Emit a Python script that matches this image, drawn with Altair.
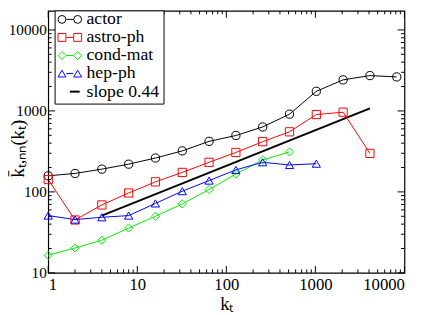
import altair as alt
import pandas as pd

# ---- data ----
kt = [1, 2, 4, 8, 16, 32, 64, 128, 256, 512, 1024, 2048, 4096, 8192]
actor = [158, 169, 191, 220, 262, 321, 421, 497, 634, 912, 1746, 2420, 2730, 2630]
astro_ph = [142, 45, 69, 97, 133, 174, 232, 307, 417, 552, 902, 964, 299]
cond_mat = [16.5, 20.3, 25.3, 35.8, 50, 71, 107, 166, 248, 312]
hep_ph = [51, 45.5, 48.6, 51, 72, 102, 138, 187, 232, 215, 223]
slope_x = [4, 4096]
slope_y = [51, 1077]

series = ["actor", "astro-ph", "cond-mat", "hep-ph"]
legend_labels = series + ["slope 0.44"]
colors = ["#000000", "#ff0000", "#00f000", "#0000ff", "#000000"]
shapes = ["circle", "square", "diamond", "triangle-up"]

x_major = [1, 10, 100, 1000, 10000]
x_minor = [m * d for d in [1, 10, 100, 1000] for m in range(2, 10)]
y_major = [10, 100, 1000, 10000]
y_minor = [m * d for d in [10, 100, 1000] for m in range(2, 10)]

# ---- tables ----
rows = []
for name, vals in zip(series, [actor, astro_ph, cond_mat, hep_ph]):
    for k, v in zip(kt, vals):
        rows.append({"k": k, "v": v, "s": name})
df = pd.DataFrame(rows)
slope_df = pd.DataFrame({"k": slope_x, "v": slope_y})
legend_df = pd.DataFrame({"s": legend_labels})

W, H = 363, 267
FONT = "Liberation Serif"

xs = alt.Scale(type="log", domain=[1, 10000], nice=False)
ys = alt.Scale(type="log", domain=[10, 17200], nice=False)

x_axis = alt.Axis(values=x_major, format="d", ticks=False, domain=False, grid=False,
                  labelPadding=4, labelFontSize=17, title="kₜ", titlePadding=2)
y_axis = alt.Axis(values=y_major, format="d", ticks=False, domain=False, grid=False,
                  labelPadding=2, labelFontSize=15.5, title="k̄ₜ,ₙₙ(kₜ)",
                  titleX=-31, titleY=140, titleAlign="center", titleBaseline="middle")

cscale = alt.Scale(domain=legend_labels, range=colors)

lines = alt.Chart(df).mark_line(strokeWidth=1).encode(
    x=alt.X("k:Q", scale=xs, axis=x_axis),
    y=alt.Y("v:Q", scale=ys, axis=y_axis),
    color=alt.Color("s:N", scale=cscale, legend=None),
)

points = alt.Chart(df).mark_point(size=70, strokeWidth=1, filled=False, opacity=1).encode(
    x=alt.X("k:Q", scale=xs, axis=x_axis),
    y=alt.Y("v:Q", scale=ys, axis=y_axis),
    color=alt.Color("s:N", scale=cscale, legend=None),
    shape=alt.Shape("s:N", scale=alt.Scale(domain=series, range=shapes), legend=None),
)

slope = alt.Chart(slope_df).mark_line(color="black", strokeWidth=2).encode(
    x=alt.X("k:Q", scale=xs, axis=x_axis),
    y=alt.Y("v:Q", scale=ys, axis=y_axis),
)


def tick_layer(vals, axis_ch, length, side):
    if axis_ch == "x":
        base = alt.Chart(pd.DataFrame({"k": vals})).mark_rule(color="black", strokeWidth=1)
        enc = dict(x=alt.X("k:Q", scale=xs, axis=x_axis))
        if side == "bottom":
            enc.update(y=alt.value(H), y2=alt.value(H - length))
        else:
            enc.update(y=alt.value(0), y2=alt.value(length))
    else:
        base = alt.Chart(pd.DataFrame({"v": vals})).mark_rule(color="black", strokeWidth=1)
        enc = dict(y=alt.Y("v:Q", scale=ys, axis=y_axis))
        if side == "left":
            enc.update(x=alt.value(0), x2=alt.value(length))
        else:
            enc.update(x=alt.value(W), x2=alt.value(W - length))
    return base.encode(**enc)


ticks = [
    tick_layer(x_major, "x", 7, "bottom"), tick_layer(x_minor, "x", 3.5, "bottom"),
    tick_layer(x_major, "x", 7, "top"), tick_layer(x_minor, "x", 3.5, "top"),
    tick_layer(y_major, "y", 7, "left"), tick_layer(y_minor, "y", 3.5, "left"),
    tick_layer(y_major, "y", 7, "right"), tick_layer(y_minor, "y", 3.5, "right"),
]

# ---- legend drawn by hand (box, marker-line-marker, label) ----
legend_layers = [
    alt.Chart(legend_df).transform_filter(alt.datum.s == legend_labels[0])
    .mark_rect(fill="white", stroke="black", strokeWidth=1)
    .encode(x=alt.value(7), x2=alt.value(118), y=alt.value(0), y2=alt.value(95))
]
for i, name in enumerate(legend_labels):
    yv = 8.7 + 18.4 * i
    col = colors[i]
    sub = alt.Chart(legend_df).transform_filter(alt.datum.s == name)
    if i < len(shapes):
        legend_layers.append(
            sub.mark_rule(color=col, strokeWidth=1)
            .encode(x=alt.value(18.5), x2=alt.value(25.5), y=alt.value(yv)))
        for xv in (14, 30):
            legend_layers.append(
                sub.mark_point(shape=shapes[i], size=64, color=col, filled=False,
                               strokeWidth=1, opacity=1)
                .encode(x=alt.value(xv), y=alt.value(yv)))
    else:
        legend_layers.append(
            sub.mark_rule(color=col, strokeWidth=2)
            .encode(x=alt.value(22), x2=alt.value(32), y=alt.value(yv)))
    legend_layers.append(
        sub.mark_text(align="left", baseline="middle", font=FONT, fontSize=18,
                      color="black")
        .encode(x=alt.value(39), y=alt.value(yv), text="s:N"))

chart = alt.layer(*ticks, slope, lines, points, *legend_layers).properties(
    width=W, height=H,
    padding={"left": 41, "top": 0, "right": 24, "bottom": 40},
    autosize=alt.AutoSizeParams(type="none"),
    background="white",
).configure(
    font=FONT
).configure_view(
    stroke="black", strokeWidth=1.2
).configure_axis(
    labelFont=FONT, labelColor="black",
    titleFont=FONT, titleFontSize=19, titleFontWeight="normal", titleColor="black",
)

chart.save("out.html", embed_options={"renderer": "svg", "actions": False})
